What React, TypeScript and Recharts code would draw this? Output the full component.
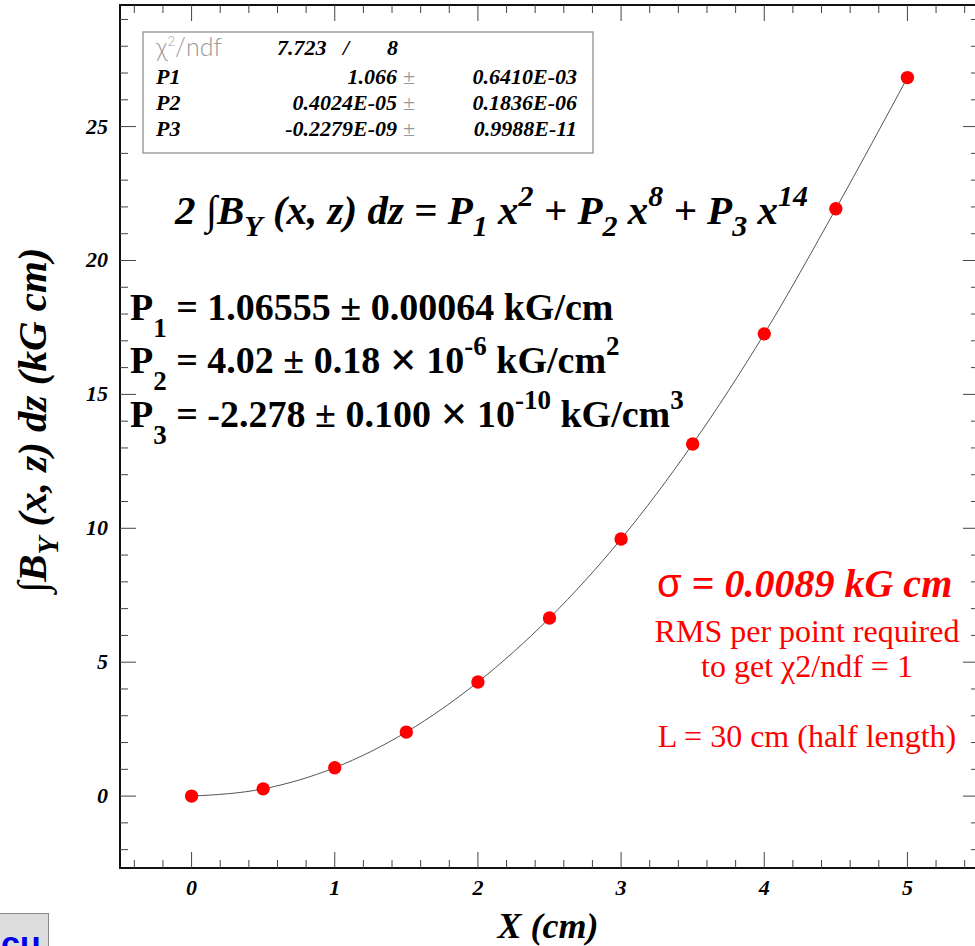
import React from "react";
import { ComposedChart, Line, XAxis, YAxis, ReferenceArea } from "recharts";

// measured field integral vs transverse position
const xPositions = [0, 0.5, 1, 1.5, 2, 2.5, 3, 3.5, 4, 4.5, 5];
const fieldIntegral = [0, 0.27, 1.06, 2.39, 4.26, 6.65, 9.6, 13.15, 17.26, 21.93, 26.83];

const xDomain = [-0.5, 5.5];
const yDomain = [-2.685, 29.54];
const xMajorTicks = [0, 1, 2, 3, 4, 5];
const yMajorTicks = [0, 5, 10, 15, 20, 25];

const statsRows = [
  { name: "P1", value: "1.066", error: "0.6410E-03" },
  { name: "P2", value: "0.4024E-05", error: "0.1836E-06" },
  { name: "P3", value: "-0.2279E-09", error: "0.9988E-11" },
];

const CHART_W = 990;
const CHART_H = 946;
const MARGIN = { top: 5, right: 11, left: 60, bottom: 38 };
const Y_AXIS_W = 60;
const X_AXIS_H = 40;
const PLOT_W = CHART_W - MARGIN.left - MARGIN.right - Y_AXIS_W;
const PLOT_H = CHART_H - MARGIN.top - MARGIN.bottom - X_AXIS_H;

const SERIF = "'Liberation Serif', 'Times New Roman', serif";
const TICK_COLOR = "#444";

const xTicks: number[] = [];
for (let i = -2; i <= 27; i++) xTicks.push(+(i * 0.2).toFixed(2));
const yTicks: number[] = [];
for (let i = -2; i <= 29; i++) yTicks.push(i);

const data = xPositions.map((x, i) => ({ x, y: fieldIntegral[i] }));

const isMajor = (v: number, majors: number[]) =>
  Math.abs(v - Math.round(v)) < 1e-6 && majors.includes(Math.round(v));

function XTick(props: any) {
  const { x, y, payload } = props;
  const major = isMajor(payload.value, xMajorTicks);
  const len = major ? 16 : 8;
  const top = y - PLOT_H;
  return (
    <g>
      <line x1={x} x2={x} y1={y} y2={y - len} stroke={TICK_COLOR} />
      <line x1={x} x2={x} y1={top} y2={top + len} stroke={TICK_COLOR} />
      {major && (
        <text x={x} y={y + 27} textAnchor="middle" fontFamily={SERIF} fontSize={22} fontWeight="bold" fontStyle="italic" fill="#000">
          {Math.round(payload.value)}
        </text>
      )}
    </g>
  );
}

function YTick(props: any) {
  const { x, y, payload } = props;
  const major = isMajor(payload.value, yMajorTicks);
  const len = major ? 16 : 8;
  const right = x + PLOT_W;
  return (
    <g>
      <line x1={x} x2={x + len} y1={y} y2={y} stroke={TICK_COLOR} />
      <line x1={right} x2={right - len} y1={y} y2={y} stroke={TICK_COLOR} />
      {major && (
        <text x={x - 12} y={y + 7} textAnchor="end" fontFamily={SERIF} fontSize={22} fontWeight="bold" fontStyle="italic" fill="#000">
          {Math.round(payload.value)}
        </text>
      )}
    </g>
  );
}

type Part = { t: string; sub?: boolean; sup?: boolean; big?: boolean };

// text with sub/superscripts; dy is relative so each offset is undone on the next part
function Rich({ x, y, parts, size, small, subOff, supOff, ...rest }: any) {
  let prev = 0;
  return (
    <text x={x} y={y} fontSize={size} style={{ whiteSpace: "pre" }} {...rest}>
      {parts.map((p: Part, i: number) => {
        const off = p.sub ? subOff : p.sup ? -supOff : p.big ? 3 : 0;
        const dy = off - prev;
        prev = off;
        const fs = p.sub || p.sup ? small : p.big ? size * 1.25 : undefined;
        return (
          <tspan key={i} dy={dy} fontSize={fs}>
            {p.t}
          </tspan>
        );
      })}
    </text>
  );
}

function Annotations() {
  const boldItalic = { fontFamily: SERIF, fontWeight: "bold", fontStyle: "italic" } as const;
  const rowY = [84, 110, 136];
  return (
    <svg width={975} height={946} style={{ position: "absolute", left: 0, top: 0 }}>
      {/* fit statistics box */}
      <rect x={143} y={32} width={450} height={121} fill="#fff" stroke="#888" strokeWidth={1.2} />
      <Rich x={156} y={56} size={25} small={13} subOff={0} supOff={10} fill="#999" fontFamily="Lato, 'DejaVu Sans', sans-serif" fontWeight={300}
        parts={[{ t: "χ" }, { t: "2", sup: true }, { t: "/ndf" }]} />
      <text x={277} y={55} fontSize={22} {...boldItalic}>7.723</text>
      <text x={343} y={55} fontSize={22} {...boldItalic}>/</text>
      <text x={387} y={55} fontSize={22} {...boldItalic}>8</text>
      {statsRows.map((r, i) => (
        <g key={r.name}>
          <text x={156} y={rowY[i]} fontSize={22} {...boldItalic}>{r.name}</text>
          <text x={397} y={rowY[i]} fontSize={22} textAnchor="end" {...boldItalic}>{r.value}</text>
          <text x={403} y={rowY[i]} fontSize={22} fontFamily={SERIF} fill="#999">±</text>
          <text x={577} y={rowY[i]} fontSize={22} textAnchor="end" {...boldItalic}>{r.error}</text>
        </g>
      ))}

      {/* fit function */}
      <Rich x={175} y={224} size={41} small={30} subOff={12} supOff={18} {...boldItalic}
        parts={[
          { t: "2 ∫B" }, { t: "Y", sub: true }, { t: " (x, z) dz = P" }, { t: "1", sub: true },
          { t: " x" }, { t: "2", sup: true }, { t: " + P" }, { t: "2", sub: true }, { t: " x" }, { t: "8", sup: true },
          { t: " + P" }, { t: "3", sub: true }, { t: " x" }, { t: "14", sup: true },
        ]} />

      {/* fitted parameters */}
      <Rich x={130} y={320} size={38} small={27} subOff={17} supOff={18} fontFamily={SERIF} fontWeight="bold"
        parts={[{ t: "P" }, { t: "1", sub: true }, { t: " = 1.06555 ± 0.00064 kG/cm" }]} />
      <Rich x={130} y={373} size={38} small={27} subOff={17} supOff={18} fontFamily={SERIF} fontWeight="bold"
        parts={[{ t: "P" }, { t: "2", sub: true }, { t: " = 4.02 ± 0.18 " }, { t: "×", big: true }, { t: " 10" }, { t: "-6", sup: true }, { t: " kG/cm" }, { t: "2", sup: true }]} />
      <Rich x={130} y={427} size={38} small={27} subOff={17} supOff={18} fontFamily={SERIF} fontWeight="bold"
        parts={[{ t: "P" }, { t: "3", sub: true }, { t: " = -2.278 ± 0.100 " }, { t: "×", big: true }, { t: " 10" }, { t: "-10", sup: true }, { t: " kG/cm" }, { t: "3", sup: true }]} />

      {/* resolution notes */}
      <text x={657} y={597} fontSize={40} fill="#ff0000" fontFamily={SERIF} style={{ whiteSpace: "pre" }}>
        <tspan fontFamily="'Liberation Sans', Arial, sans-serif" fontWeight="normal">σ</tspan>
        <tspan fontWeight="bold"> = </tspan>
        <tspan fontWeight="bold" fontStyle="italic">0.0089 kG cm</tspan>
      </text>
      <g fill="#ff0000" fontFamily={SERIF} fontSize={32} textAnchor="middle">
        <text x={807} y={642}>RMS per point required</text>
        <text x={807} y={677}>to get χ2/ndf = 1</text>
        <text x={807} y={747}>L = 30 cm (half length)</text>
      </g>

      {/* axis titles */}
      <Rich x={0} y={0} size={41} small={29} subOff={12} supOff={0} {...boldItalic}
        transform="translate(46 593) rotate(-90)"
        parts={[{ t: "∫B" }, { t: "Y", sub: true }, { t: " (x, z) dz (kG cm)" }]} />
      <text x={548} y={938} fontSize={36} textAnchor="middle" {...boldItalic}>X (cm)</text>
    </svg>
  );
}

export default function App() {
  return (
    <div style={{ position: "fixed", left: 0, top: 0, width: 975, height: 946, overflow: "hidden", background: "#fff" }}>
      <div style={{ position: "absolute", left: 0, top: 0 }}>
        <ComposedChart width={CHART_W} height={CHART_H} data={data} margin={MARGIN}>
          <XAxis
            dataKey="x"
            type="number"
            domain={xDomain}
            allowDataOverflow
            ticks={xTicks}
            interval={0}
            tickSize={0}
            tickMargin={0}
            axisLine={false}
            tickLine={false}
            tick={XTick}
            height={X_AXIS_H}
          />
          <YAxis
            type="number"
            domain={yDomain}
            allowDataOverflow
            ticks={yTicks}
            interval={0}
            tickSize={0}
            tickMargin={0}
            axisLine={false}
            tickLine={false}
            tick={YTick}
            width={Y_AXIS_W}
          />
          <ReferenceArea x1={xDomain[0]} x2={xDomain[1]} y1={yDomain[0]} y2={yDomain[1]} fill="none" stroke="#111" strokeWidth={2} />
          <Line
            dataKey="y"
            type="monotone"
            stroke="#555"
            strokeWidth={1}
            dot={{ r: 6.7, fill: "#ff0000", stroke: "none" }}
            activeDot={false}
            isAnimationActive={false}
          />
        </ComposedChart>
      </div>
      <Annotations />
      <div style={{ position: "absolute", left: 0, top: 913, width: 48, height: 40, background: "#ddd", borderTop: "1px solid #888", borderRight: "1px solid #888", overflow: "hidden" }}>
        <span style={{ position: "absolute", left: 1, top: 10, color: "#0000ee", fontFamily: "'Liberation Sans', Arial, sans-serif", fontWeight: "bold", fontSize: 34 }}>cu</span>
      </div>
    </div>
  );
}
